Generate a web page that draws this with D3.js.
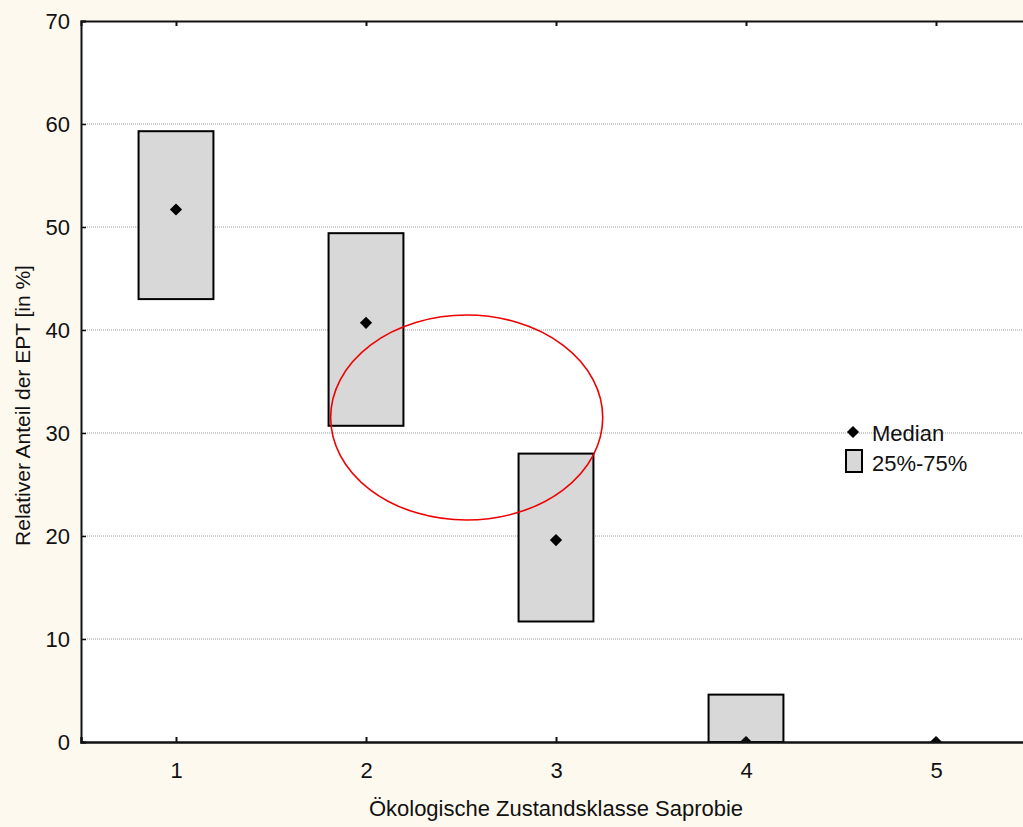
<!DOCTYPE html>
<html>
<head>
<meta charset="utf-8">
<script src="https://cdn.jsdelivr.net/npm/d3@7"></script>
<style>
  html, body { margin: 0; padding: 0; background: #fef9ee; }
  svg { display: block; }
  text { font-family: "Liberation Sans", Arial, sans-serif; fill: #111; }
</style>
</head>
<body>
<svg id="chart" width="1023" height="827"></svg>
<script>
// Saprobie classes and EPT share (percent)
const classes = [1, 2, 3, 4, 5];
const q25 = [43.0, 30.7, 11.7, 0.0, 0.0];
const q75 = [59.3, 49.4, 28.0, 4.6, 0.0];
const medians = [51.7, 40.7, 19.6, 0.0, 0.0];
const yTicks = [0, 10, 20, 30, 40, 50, 60, 70];
// Highlight ellipse: centre and radii in data units
const ellipseCentre = [2.53, 31.5];
const ellipseRadii = [0.716, 9.95];

const svg = d3.select("#chart");

const x = d3.scaleLinear().domain([0.5, 5.5]).range([81, 1031]);
const y = d3.scaleLinear().domain([0, 70]).range([742, 21]);

// Plot area
svg.append("rect")
  .attr("x", x(0.5)).attr("y", y(70))
  .attr("width", x(5.5) - x(0.5)).attr("height", y(0) - y(70))
  .attr("fill", "#fff");

svg.append("defs").append("clipPath").attr("id", "plotClip")
  .append("rect")
  .attr("x", x(0.5)).attr("y", y(70))
  .attr("width", x(5.5) - x(0.5)).attr("height", y(0) - y(70));

// Horizontal grid lines
svg.append("g").selectAll("line")
  .data(yTicks.filter(d => d > 0 && d < 70))
  .join("line")
  .attr("x1", x(0.5)).attr("x2", x(5.5))
  .attr("y1", d => y(d)).attr("y2", d => y(d))
  .attr("stroke", "#9a9a9a").attr("stroke-width", 1)
  .attr("stroke-dasharray", "1,1");

const plot = svg.append("g").attr("clip-path", "url(#plotClip)");

// Interquartile boxes
const halfW = 0.197;
plot.append("g").selectAll("rect")
  .data(classes.map((c, i) => ({ c, lo: q25[i], hi: q75[i] })).filter(d => d.hi > d.lo))
  .join("rect")
  .attr("x", d => x(d.c - halfW))
  .attr("y", d => y(d.hi))
  .attr("width", d => x(d.c + halfW) - x(d.c - halfW))
  .attr("height", d => y(d.lo) - y(d.hi))
  .attr("fill", "#d8d8d8").attr("stroke", "#000").attr("stroke-width", 2);

// Median markers
const diamond = d3.symbol().type(d3.symbolDiamond2).size(95);
plot.append("g").selectAll("path")
  .data(classes.map((c, i) => ({ c, m: medians[i] })))
  .join("path")
  .attr("d", diamond)
  .attr("transform", d => `translate(${x(d.c)},${y(d.m)})`)
  .attr("fill", "#000");

// Highlight ellipse
plot.append("ellipse")
  .attr("cx", x(ellipseCentre[0])).attr("cy", y(ellipseCentre[1]))
  .attr("rx", x(ellipseCentre[0] + ellipseRadii[0]) - x(ellipseCentre[0]))
  .attr("ry", y(ellipseCentre[1] - ellipseRadii[1]) - y(ellipseCentre[1]))
  .attr("fill", "none").attr("stroke", "#ee0000").attr("stroke-width", 1.6);

// Axes
const xAxis = d3.axisBottom(x).tickValues(classes).tickSize(-5).tickPadding(20).tickFormat(d3.format("d"));
const gx = svg.append("g").attr("transform", `translate(0,${y(0)})`).call(xAxis);
gx.select(".domain").attr("stroke", "#111").attr("stroke-width", 2.5);
gx.selectAll(".tick line").attr("stroke", "#111").attr("stroke-width", 2);
gx.selectAll(".tick text").attr("font-size", 22).attr("fill", "#111");

const xTop = d3.axisTop(x).tickValues(classes).tickSize(-5).tickFormat("");
const gxt = svg.append("g").attr("transform", `translate(0,${y(70)})`).call(xTop);
gxt.select(".domain").attr("stroke", "#111").attr("stroke-width", 2);
gxt.selectAll(".tick line").attr("stroke", "#111").attr("stroke-width", 2);

const yAxis = d3.axisLeft(y).tickValues(yTicks).tickSize(-5).tickPadding(11);
const gy = svg.append("g").attr("transform", `translate(${x(0.5)},0)`).call(yAxis);
gy.select(".domain").attr("stroke", "#111").attr("stroke-width", 2);
gy.selectAll(".tick line").attr("stroke", "#111").attr("stroke-width", 1.5);
gy.selectAll(".tick text").attr("font-size", 22).attr("fill", "#111");

// Axis titles
svg.append("text")
  .attr("x", 556).attr("y", 816)
  .attr("text-anchor", "middle").attr("font-size", 22)
  .text("Ökologische Zustandsklasse Saprobie");

svg.append("text")
  .attr("transform", `translate(30,${(y(0) + y(70)) / 2 + 24}) rotate(-90)`)
  .attr("text-anchor", "middle").attr("font-size", 21)
  .text("Relativer Anteil der EPT [in %]");

// Legend
const lg = svg.append("g");
lg.append("path").attr("d", diamond).attr("transform", "translate(853,432)").attr("fill", "#000");
lg.append("text").attr("x", 872).attr("y", 441).attr("font-size", 22).text("Median");
lg.append("rect").attr("x", 846).attr("y", 450).attr("width", 16).attr("height", 22)
  .attr("fill", "#d8d8d8").attr("stroke", "#000").attr("stroke-width", 2);
lg.append("text").attr("x", 872).attr("y", 471).attr("font-size", 22).text("25%-75%");
</script>
</body>
</html>
